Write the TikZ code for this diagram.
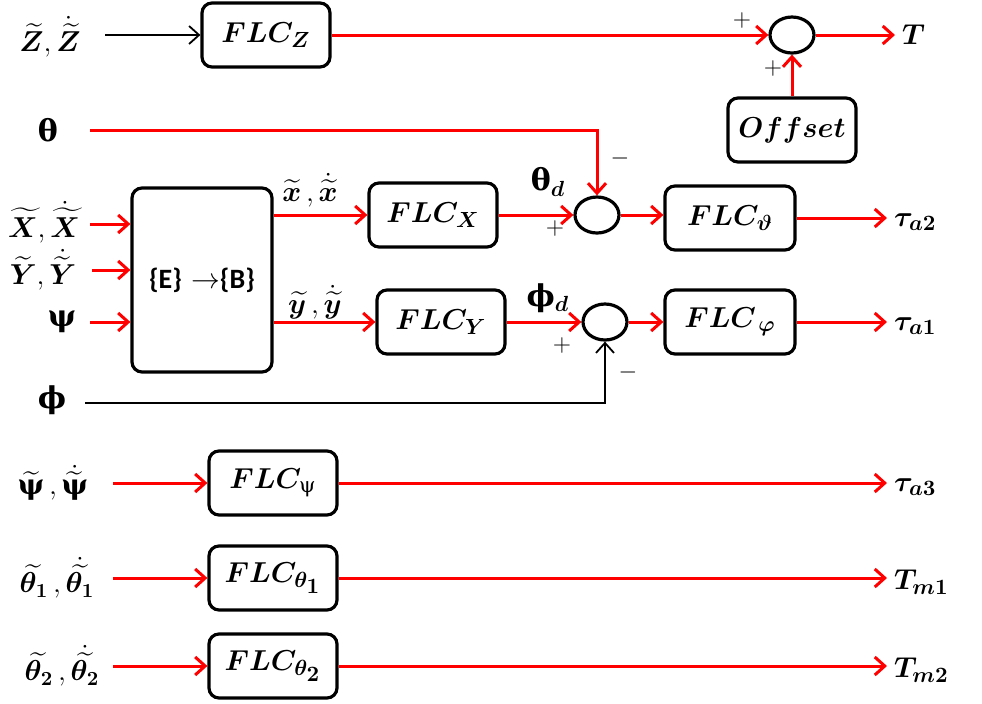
\documentclass[tikz,border=0pt]{standalone}
\usepackage{amsmath,bm}
\usepackage{fontspec}
\newfontfamily\grk{DejaVu Serif}
\newfontfamily\calfnt{Carlito}
\usetikzlibrary{arrows.meta,shapes.geometric}
\newcommand{\gb}[1]{\text{\grk\bfseries #1}}
\begin{document}
\begin{tikzpicture}[x=0.5pt,y=-0.5pt,>={Straight Barb[length=5pt,width=9pt]},
  every node/.style={font=\fontsize{15}{18}\selectfont},
  inl/.style={font=\fontsize{14}{16}\selectfont,inner sep=1pt},
  blk/.style={draw,line width=1.6pt,rounded corners=5pt,minimum width=64pt,minimum height=32pt,inner sep=0pt},
  sum/.style={draw,ellipse,line width=1.6pt,minimum width=22pt,minimum height=18pt,inner sep=0pt},
  sgn/.style={font=\fontsize{12}{14}\selectfont,inner sep=0pt},
  sig/.style={->,red,line width=1.5pt},
  fb/.style={->,line width=0.9pt}]
\useasboundingbox (0,0) rectangle (982,703);
% blocks
\node[blk] (flcz) at (266,35) {$\bm{FLC_Z}$};
\node[sum] (s1) at (792,35) {};
\node[blk] (off) at (792,130) {$\bm{Offset}$};
\node[blk,minimum width=70pt,minimum height=92pt,font=\fontsize{14}{16}\selectfont] (eb) at (202,280)
  {{\calfnt\bfseries\{E\}} $\rightarrow${\calfnt\bfseries\{B\}}};
\node[blk] (flcx) at (433,215) {$\bm{FLC_X}$};
\node[blk] (flcy) at (441,322) {$\bm{FLC_Y}$};
\node[sum] (s2) at (597,215) {};
\node[sum] (s3) at (605,322) {};
\node[blk,minimum width=65pt] (flct) at (730,218) {$\bm{FLC_\vartheta}$};
\node[blk,minimum width=65pt] (flcp) at (730,322) {$\bm{FLC_{\,\varphi}}$};
\node[blk] (flcpsi) at (273,483) {$\bm{FLC}_{\text{\grk ψ}}$};
\node[blk] (flcth1) at (273,578) {$\bm{FLC_{\theta_{\scriptstyle 1}}}$};
\node[blk] (flcth2) at (273,666) {$\bm{FLC_{\theta_{\scriptstyle 2}}}$};
% input labels
\node[inl] (zl) at (50,37) {$\widetilde{\bm Z},\dot{\widetilde{\bm Z}}$};
\node (thl) at (48,130) {\grk\bfseries θ};
\node[inl] (xl) at (44,222) {$\widetilde{\bm X},\dot{\widetilde{\bm X}}$};
\node[inl] (yl) at (43,270) {$\widetilde{\bm Y},\dot{\widetilde{\bm Y}}$};
\node (psl) at (62,322) {\grk\bfseries ψ};
\node (phl) at (52,400) {\grk\bfseries ϕ};
\node[inl] (psl2) at (53,483) {$\widetilde{\gb{ψ}}\,,\dot{\widetilde{\gb{ψ}}}$};
\node[inl] (th1l) at (57,578) {$\widetilde{\bm{\theta_1}}\,,\dot{\widetilde{\bm{\theta_1}}}$};
\node[inl] (th2l) at (62,666) {$\widetilde{\bm{\theta_2}}\,,\dot{\widetilde{\bm{\theta_2}}}$};
\coordinate (zin) at (105,35);
\coordinate (thin) at (90,130);
\coordinate (xin) at (90,224);
\coordinate (yin) at (92,270);
\coordinate (psin) at (90,322);
\coordinate (phin) at (85,403);
\coordinate (psin2) at (113,483);
\coordinate (th1in) at (113,578);
\coordinate (th2in) at (113,666);
% signal labels
\node[inl] (xol) at (310,190) {$\widetilde{\bm x}\,,\dot{\widetilde{\bm x}}$};
\node[inl] (yol) at (315,302) {$\widetilde{\bm y}\,,\dot{\widetilde{\bm y}}$};
\node (thd) at (548,182) {{\grk\bfseries θ}$_{\bm d}$};
\node (phd) at (548,298) {{\grk\bfseries ϕ}$_{\bm d}$};
\node[sgn] (p1) at (742,20) {$+$};
\node[sgn] (p2) at (773,68) {$+$};
\node[sgn] (m2) at (620,158) {$-$};
\node[sgn] (p3) at (555,228) {$+$};
\node[sgn] (p4) at (562,345) {$+$};
\node[sgn] (m3) at (628,372) {$-$};
% outputs
\node[anchor=west] (T) at (895,35) {$\bm T$};
\node[anchor=west] (ta2) at (887,222) {$\bm{\tau_{a2}}$};
\node[anchor=west] (ta1) at (887,326) {$\bm{\tau_{a1}}$};
\node[anchor=west] (ta3) at (887,487) {$\bm{\tau_{a3}}$};
\node[anchor=west] (tm1) at (887,582) {$\bm{T_{m1}}$};
\node[anchor=west] (tm2) at (887,670) {$\bm{T_{m2}}$};
% connections
\draw[fb] (zin) -- (flcz);
\draw[sig] (flcz) -- (s1);
\draw[sig] (off) -- (s1);
\draw[sig] (s1) -- (T);
\draw[sig] (thin) -| (s2);
\draw[sig] (xin) -- (xin -| eb.west);
\draw[sig] (yin) -- (yin -| eb.west);
\draw[sig] (psin) -- (psin -| eb.west);
\draw[sig] (eb.east |- flcx) -- (flcx);
\draw[sig] (eb.east |- flcy) -- (flcy);
\draw[sig] (flcx) -- (s2);
\draw[sig] (flcy) -- (s3);
\draw[sig] (s2) -- (s2 -| flct.west);
\draw[sig] (s3) -- (flcp);
\draw[sig] (flct) -- (flct -| ta2.west);
\draw[sig] (flcp) -- (flcp -| ta1.west);
\draw[fb] (phin) -| (s3);
\draw[sig] (psin2) -- (flcpsi);
\draw[sig] (th1in) -- (flcth1);
\draw[sig] (th2in) -- (flcth2);
\draw[sig] (flcpsi) -- (flcpsi -| ta3.west);
\draw[sig] (flcth1) -- (flcth1 -| tm1.west);
\draw[sig] (flcth2) -- (flcth2 -| tm2.west);
\end{tikzpicture}
\end{document}
